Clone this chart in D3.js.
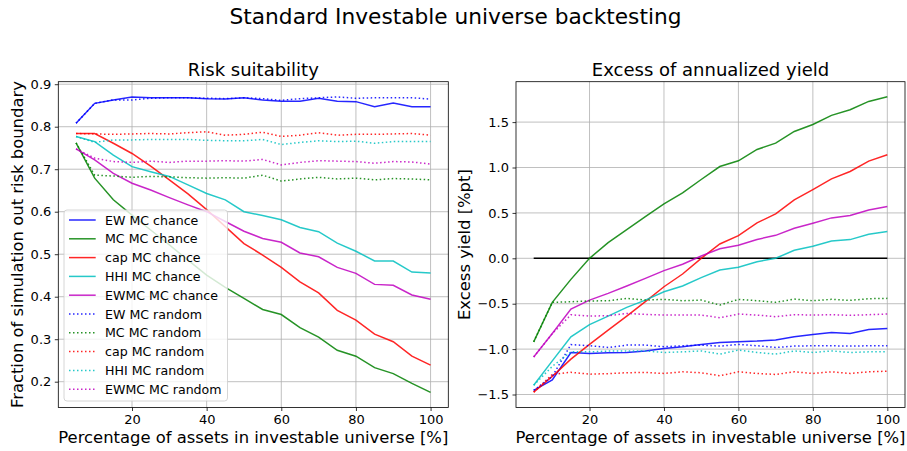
<!DOCTYPE html>
<html lang="en">
  <head>
    <meta charset="UTF-8" />
    <title>Standard Investable universe backtesting</title>
    <script src="https://d3js.org/d3.v7.min.js"></script>
    <style>
      body {
        margin: 0;
        background: #fff;
      }
      svg {
        display: block;
        font-family: "DejaVu Sans", sans-serif;
      }
      .grid line {
        stroke: #b0b0b0;
        stroke-width: 0.8;
      }
    </style>
  </head>
  <body>
    <script>
      // percentage of assets in investable universe
      const pct = [5, 10, 15, 20, 25, 30, 35, 40, 45, 50, 55, 60, 65, 70, 75, 80, 85, 90, 95, 100];

      const seriesNames = ["EW MC", "MC MC", "cap MC", "HHI MC", "EWMC MC"];
      const seriesColors = ["#0000ff", "#008000", "#ff0000", "#00bfbf", "#bf00bf"];

      // Risk suitability: fraction of simulation out of risk boundary
      const riskEwChance = [0.808, 0.855, 0.863, 0.87, 0.868, 0.868, 0.868, 0.866, 0.865, 0.868, 0.863, 0.86, 0.86, 0.867, 0.86, 0.859, 0.847, 0.856, 0.847, 0.847];
      const riskMcChance = [0.762, 0.679, 0.628, 0.592, 0.557, 0.522, 0.486, 0.451, 0.422, 0.396, 0.37, 0.358, 0.327, 0.305, 0.274, 0.26, 0.233, 0.219, 0.196, 0.175];
      const riskCapChance = [0.784, 0.784, 0.761, 0.737, 0.707, 0.675, 0.642, 0.605, 0.565, 0.525, 0.498, 0.469, 0.435, 0.409, 0.368, 0.345, 0.312, 0.294, 0.26, 0.239];
      const riskHhiChance = [0.777, 0.765, 0.733, 0.706, 0.694, 0.683, 0.663, 0.643, 0.628, 0.6, 0.591, 0.581, 0.563, 0.553, 0.526, 0.507, 0.484, 0.484, 0.458, 0.456];
      const riskEwmcChance = [0.748, 0.722, 0.69, 0.667, 0.651, 0.633, 0.616, 0.6, 0.577, 0.554, 0.537, 0.528, 0.503, 0.494, 0.469, 0.455, 0.429, 0.427, 0.404, 0.394];

      const riskEwRandom = [0.808, 0.855, 0.863, 0.863, 0.867, 0.868, 0.868, 0.867, 0.866, 0.868, 0.866, 0.862, 0.866, 0.868, 0.87, 0.867, 0.868, 0.868, 0.868, 0.865];
      const riskMcRandom = [0.762, 0.686, 0.684, 0.681, 0.683, 0.682, 0.68, 0.679, 0.68, 0.679, 0.686, 0.672, 0.677, 0.681, 0.677, 0.679, 0.675, 0.678, 0.677, 0.675];
      const riskCapRandom = [0.784, 0.783, 0.782, 0.783, 0.784, 0.783, 0.786, 0.788, 0.78, 0.782, 0.787, 0.777, 0.78, 0.786, 0.78, 0.782, 0.782, 0.783, 0.784, 0.78];
      const riskHhiRandom = [0.777, 0.763, 0.769, 0.769, 0.77, 0.77, 0.77, 0.768, 0.767, 0.767, 0.77, 0.758, 0.763, 0.767, 0.765, 0.766, 0.761, 0.765, 0.765, 0.765];
      const riskEwmcRandom = [0.748, 0.726, 0.718, 0.716, 0.719, 0.716, 0.719, 0.719, 0.72, 0.719, 0.723, 0.71, 0.716, 0.72, 0.719, 0.718, 0.714, 0.718, 0.717, 0.712];

      // Excess of annualized yield [%pt]
      const yieldEwChance = [-1.455, -1.34, -1.038, -1.049, -1.04, -1.037, -1.022, -0.993, -0.974, -0.949, -0.926, -0.919, -0.912, -0.9, -0.864, -0.838, -0.816, -0.827, -0.783, -0.772];
      const yieldMcChance = [-0.92, -0.485, -0.232, 0.0, 0.173, 0.316, 0.46, 0.599, 0.72, 0.868, 1.011, 1.074, 1.199, 1.268, 1.397, 1.474, 1.574, 1.636, 1.728, 1.779];
      const yieldCapChance = [-1.474, -1.3, -1.11, -0.948, -0.79, -0.636, -0.478, -0.313, -0.173, 0.0, 0.158, 0.25, 0.39, 0.489, 0.643, 0.757, 0.875, 0.956, 1.07, 1.14];
      const yieldHhiChance = [-1.398, -1.13, -0.865, -0.73, -0.636, -0.54, -0.46, -0.368, -0.305, -0.213, -0.129, -0.099, -0.037, 0.0, 0.088, 0.132, 0.19, 0.206, 0.265, 0.294];
      const yieldEwmcChance = [-1.086, -0.828, -0.56, -0.46, -0.386, -0.305, -0.221, -0.136, -0.066, 0.026, 0.106, 0.143, 0.208, 0.253, 0.331, 0.386, 0.445, 0.471, 0.533, 0.57];

      const yieldEwRandom = [-1.455, -1.3, -0.95, -0.963, -0.982, -0.956, -0.956, -0.974, -0.963, -0.956, -0.967, -0.949, -0.963, -0.982, -0.967, -0.963, -0.963, -0.967, -0.963, -0.963];
      const yieldMcRandom = [-0.92, -0.485, -0.478, -0.47, -0.467, -0.441, -0.46, -0.452, -0.467, -0.46, -0.515, -0.452, -0.467, -0.485, -0.449, -0.467, -0.452, -0.463, -0.445, -0.441];
      const yieldCapRandom = [-1.474, -1.28, -1.255, -1.276, -1.27, -1.26, -1.257, -1.268, -1.25, -1.26, -1.294, -1.25, -1.268, -1.279, -1.25, -1.268, -1.25, -1.268, -1.25, -1.243];
      const yieldHhiRandom = [-1.398, -1.19, -1.03, -1.03, -1.022, -1.022, -1.02, -1.037, -1.03, -1.02, -1.055, -1.011, -1.037, -1.055, -1.02, -1.037, -1.02, -1.037, -1.03, -1.03];
      const yieldEwmcRandom = [-1.086, -0.83, -0.622, -0.636, -0.632, -0.607, -0.618, -0.625, -0.625, -0.625, -0.654, -0.614, -0.625, -0.643, -0.621, -0.625, -0.621, -0.628, -0.621, -0.614];

      const xTicks = [20, 40, 60, 80, 100];
      const riskTicks = [0.2, 0.3, 0.4, 0.5, 0.6, 0.7, 0.8, 0.9];
      const yieldTicks = [-1.5, -1.0, -0.5, 0.0, 0.5, 1.0, 1.5];

      const W = 907,
        H = 451;
      const svg = d3.select("body").append("svg").attr("width", W).attr("height", H);

      svg
        .append("text")
        .attr("x", W / 2 + 2)
        .attr("y", 24)
        .attr("text-anchor", "middle")
        .style("font-size", "21.7px")
        .text("Standard Investable universe backtesting");

      const fmt = (d) => d3.format(".1f")(d).replace("-", "\u2212");

      function drawPanel(opts) {
        const { left, right, top, bottom } = opts;
        const x = d3.scaleLinear().domain([0.25, 104.75]).range([left, right]);
        const y = d3.scaleLinear().domain(opts.yDomain).range([bottom, top]);
        const g = svg.append("g");

        // grid
        const grid = g.append("g").attr("class", "grid");
        grid
          .selectAll(".gx")
          .data(xTicks)
          .enter()
          .append("line")
          .attr("x1", (d) => x(d))
          .attr("x2", (d) => x(d))
          .attr("y1", top)
          .attr("y2", bottom);
        grid
          .selectAll(".gy")
          .data(opts.yTicks)
          .enter()
          .append("line")
          .attr("x1", left)
          .attr("x2", right)
          .attr("y1", (d) => y(d))
          .attr("y2", (d) => y(d));

        const clip = "clip" + opts.id;
        g.append("clipPath").attr("id", clip).append("rect").attr("x", left).attr("y", top).attr("width", right - left).attr("height", bottom - top);
        const plot = g.append("g").attr("clip-path", `url(#${clip})`);

        const line = d3
          .line()
          .x((d, i) => x(pct[i]))
          .y((d) => y(d));

        if (opts.zeroLine) {
          plot
            .append("path")
            .attr("d", d3.line().x((d) => x(d)).y(() => y(0))([pct[0], pct[pct.length - 1]]))
            .attr("fill", "none")
            .attr("stroke", "#000")
            .attr("stroke-width", 1.5);
        }

        opts.chance.forEach((s, i) => {
          plot.append("path").attr("d", line(s)).attr("fill", "none").attr("stroke", seriesColors[i]).attr("stroke-width", 1.5).attr("stroke-opacity", 0.85);
        });
        opts.random.forEach((s, i) => {
          plot
            .append("path")
            .attr("d", line(s))
            .attr("fill", "none")
            .attr("stroke", seriesColors[i])
            .attr("stroke-width", 1.5)
            .attr("stroke-opacity", 0.85)
            .attr("stroke-dasharray", "1.5,2.5");
        });

        // axes
        const xAxis = g
          .append("g")
          .attr("transform", `translate(0,${bottom})`)
          .call(d3.axisBottom(x).tickValues(xTicks).tickSize(3.5).tickPadding(3.5).tickFormat(d3.format("d")));
        const yAxis = g
          .append("g")
          .attr("transform", `translate(${left},0)`)
          .call(d3.axisLeft(y).tickValues(opts.yTicks).tickSize(3.5).tickPadding(3.5).tickFormat(fmt));
        [xAxis, yAxis].forEach((a) => {
          a.select(".domain").remove();
          a.selectAll("line").attr("stroke", "#000").attr("stroke-width", 0.8);
          a.selectAll("text").style("font-size", "13px").attr("fill", "#000").style("font-family", "DejaVu Sans");
        });

        g.append("rect")
          .attr("x", left)
          .attr("y", top)
          .attr("width", right - left)
          .attr("height", bottom - top)
          .attr("fill", "none")
          .attr("stroke", "#000")
          .attr("stroke-width", 0.8);

        g.append("text")
          .attr("x", (left + right) / 2)
          .attr("y", top - 6)
          .attr("text-anchor", "middle")
          .style("font-size", "18px")
          .text(opts.title);

        g.append("text")
          .attr("x", (left + right) / 2)
          .attr("y", 443)
          .attr("text-anchor", "middle")
          .style("font-size", "16.4px")
          .text("Percentage of assets in investable universe [%]");

        g.append("text")
          .attr("transform", `translate(${opts.yLabelX},${(top + bottom) / 2}) rotate(-90)`)
          .attr("text-anchor", "middle")
          .style("font-size", "16.4px")
          .text(opts.yLabel);

        return g;
      }

      const riskPanel = drawPanel({
        id: "risk",
        left: 58.3,
        right: 448.3,
        top: 81.7,
        bottom: 407.5,
        yDomain: [0.1393, 0.9059],
        yTicks: riskTicks,
        title: "Risk suitability",
        yLabel: "Fraction of simulation out risk boundary",
        yLabelX: 23,
        chance: [riskEwChance, riskMcChance, riskCapChance, riskHhiChance, riskEwmcChance],
        random: [riskEwRandom, riskMcRandom, riskCapRandom, riskHhiRandom, riskEwmcRandom],
      });

      drawPanel({
        id: "yield",
        left: 516,
        right: 905,
        top: 81.7,
        bottom: 407.5,
        yDomain: [-1.643, 1.945],
        yTicks: yieldTicks,
        title: "Excess of annualized yield",
        yLabel: "Excess yield [%pt]",
        yLabelX: 470,
        zeroLine: true,
        chance: [yieldEwChance, yieldMcChance, yieldCapChance, yieldHhiChance, yieldEwmcChance],
        random: [yieldEwRandom, yieldMcRandom, yieldCapRandom, yieldHhiRandom, yieldEwmcRandom],
      });

      // legend on the risk panel
      const legendItems = seriesNames
        .map((n, i) => ({ label: n + " chance", color: seriesColors[i], dash: null }))
        .concat(seriesNames.map((n, i) => ({ label: n + " random", color: seriesColors[i], dash: "1.5,2.5" })));

      const lg = riskPanel.append("g").attr("transform", "translate(64,210)");
      lg.append("rect")
        .attr("width", 163.5)
        .attr("height", 191)
        .attr("rx", 3)
        .attr("fill", "#fff")
        .attr("fill-opacity", 0.8)
        .attr("stroke", "#cccccc")
        .attr("stroke-width", 0.8);

      const row = lg
        .selectAll(".legend")
        .data(legendItems)
        .enter()
        .append("g")
        .attr("class", "legend")
        .attr("transform", (d, i) => `translate(0,${10 + i * 18.8})`);
      row
        .append("line")
        .attr("x1", 5)
        .attr("x2", 31.7)
        .attr("stroke", (d) => d.color)
        .attr("stroke-width", 1.5)
        .attr("stroke-opacity", 0.85)
        .attr("stroke-dasharray", (d) => d.dash);
      row
        .append("text")
        .attr("x", 41)
        .attr("dy", "0.36em")
        .style("font-size", "12.6px")
        .text((d) => d.label);
    </script>
  </body>
</html>
